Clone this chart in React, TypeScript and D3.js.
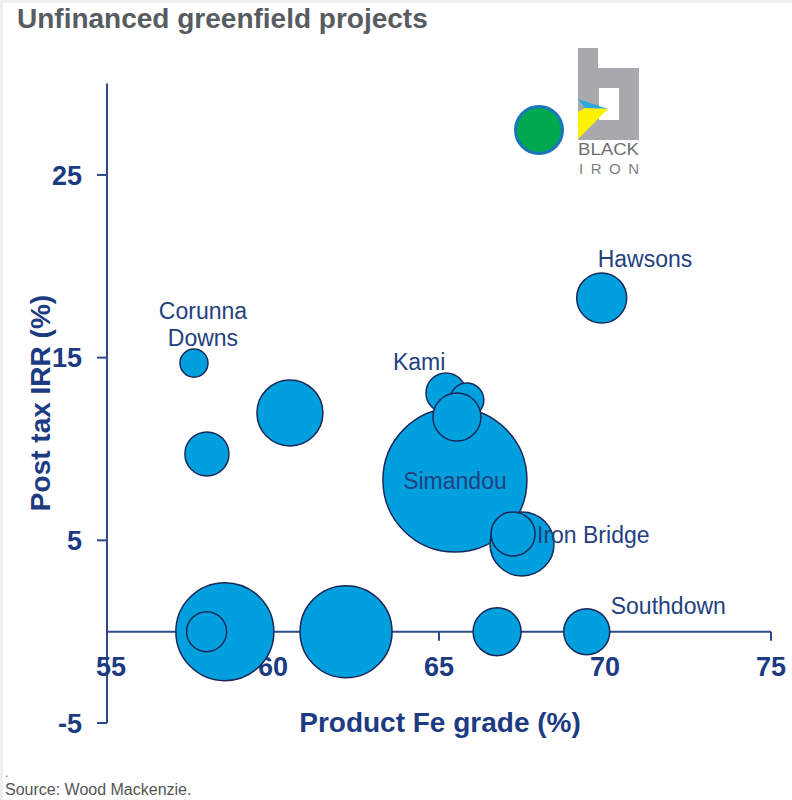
import React from "react";
import * as d3 from "d3";

// ---- data ----
const projects = ["Corunna Downs", "P2", "P3", "Simandou", "Kami", "Kami 2", "Kami 3", "Iron Bridge", "Iron Bridge 2", "Hawsons", "P11", "P12", "P13", "P14", "Southdown"];
const feGrade = [57.62, 58.01, 60.51, 65.48, 65.21, 65.84, 65.54, 67.5, 67.23, 69.9, 58.55, 58.0, 62.2, 66.75, 69.45];
const irr = [14.7, 9.73, 11.97, 8.3, 13.07, 12.68, 11.75, 4.8, 5.35, 18.26, 0, 0, 0, 0, 0];
const capex = [0.76, 1.87, 4.2, 20, 1.54, 1.11, 2.22, 3.95, 1.87, 2.41, 9.26, 1.54, 8.16, 2.22, 2.04];
const xTicks = [55, 60, 65, 70, 75];
const yTicks = [-5, 5, 15, 25];

const W = 792, H = 800;
const FONT = "'Liberation Sans', Arial, Helvetica, sans-serif";
const NAVY = "#1c3b82";
const AXIS = "#2d4a8c";
const LABEL = "#24417f";

export default function App() {
  const x = d3.scaleLinear().domain([55, 75]).range([107, 771]);
  const y = d3.scaleLinear().domain([-5, 30]).range([723, 83.6]);
  const r = d3.scaleSqrt().domain([0, 20]).range([0, 72]);
  const pts = projects.map((p, i) => ({ p, x: feGrade[i], y: irr[i], s: capex[i] }));

  const byName = (n: string) => pts.find((d) => d.p === n)!;
  const lab = (n: string) => { const d = byName(n); return { cx: x(d.x), cy: y(d.y) }; };

  const haw = lab("Hawsons");
  const cor = lab("Corunna Downs");
  const kami = lab("Kami");
  const sim = lab("Simandou");
  const ib = lab("Iron Bridge");
  const sd = lab("Southdown");

  return (
    <svg width={W} height={H} style={{ position: "absolute", left: 0, top: 0, background: "#fff" }} fontFamily={FONT}>
      <rect x={0} y={0} width={W} height={H} fill="#fff" />
      <rect x={0} y={0} width={W} height={3} fill="#efefef" />
      <rect x={0} y={0} width={3} height={H} fill="#efefef" />

      <text x={17} y={28} fontSize={28} fontWeight="bold" fill="#575c62">Unfinanced greenfield projects</text>

      {/* axes */}
      <line x1={x(55)} x2={x(55)} y1={y(30)} y2={y(-5)} stroke={AXIS} strokeWidth={2} />
      {yTicks.map((t) => (
        <g key={"y" + t}>
          <line x1={x(55) - 10} x2={x(55)} y1={y(t)} y2={y(t)} stroke={AXIS} strokeWidth={2} />
          <text x={82} y={y(t)} dy="0.36em" textAnchor="end" fontSize={27} fontWeight="bold" fill={NAVY}>{t}</text>
        </g>
      ))}
      <line x1={x(55)} x2={x(75)} y1={y(0)} y2={y(0)} stroke={AXIS} strokeWidth={2} />
      {xTicks.map((t) => (
        <g key={"x" + t}>
          <line x1={x(t)} x2={x(t)} y1={y(0)} y2={y(0) + 9} stroke={AXIS} strokeWidth={2} />
          <text x={x(t) + (t === 55 ? 4 : 0)} y={676} textAnchor="middle" fontSize={27} fontWeight="bold" fill={NAVY}>{t}</text>
        </g>
      ))}
      <text x={440} y={732} textAnchor="middle" fontSize={28} fontWeight="bold" fill={NAVY}>Product Fe grade (%)</text>
      <text transform={`translate(50,403) rotate(-90)`} textAnchor="middle" fontSize={28} fontWeight="bold" fill={NAVY}>Post tax IRR (%)</text>

      {/* bubbles */}
      {pts.map((d) => (
        <circle key={d.p} cx={x(d.x)} cy={y(d.y)} r={r(d.s)} fill="#00a0df" stroke="#1a2858" strokeWidth={1.5} />
      ))}

      {/* labels */}
      <g fontSize={23} fill={LABEL}>
        <text x={haw.cx - 4} y={haw.cy - 31}>Hawsons</text>
        <text x={cor.cx + 9} y={cor.cy - 44} textAnchor="middle">Corunna</text>
        <text x={cor.cx + 9} y={cor.cy - 17} textAnchor="middle">Downs</text>
        <text x={kami.cx - 53} y={kami.cy - 23}>Kami</text>
        <text x={sim.cx} y={sim.cy + 9} textAnchor="middle">Simandou</text>
        <text x={ib.cx + 15} y={ib.cy - 1}>Iron Bridge</text>
        <text x={sd.cx + 24} y={sd.cy - 18}>Southdown</text>
      </g>

      {/* logo */}
      <circle cx={539} cy={130} r={23.5} fill="#00a94f" stroke="#1b75bb" strokeWidth={3} />
      <path d="M578,48 H598 V68 H639 V140 H578 Z M599,88 V120 H619 V88 Z" fill="#a7a9ac" fillRule="evenodd" />
      <polygon points="578,99 608,109 585,108" fill="#29a9e0" />
      <polygon points="585,108 608,109 578,139 578,112" fill="#fff200" />
      <text x={578} y={155} fontSize={16} fill="#6d6e71" textLength={61} lengthAdjust="spacingAndGlyphs">BLACK</text>
      <text x={579} y={174} fontSize={15} fill="#808285" textLength={60} lengthAdjust="spacing">IRON</text>

      {/* source */}
      <text x={5} y={777} fontSize={12} fill="#666">.</text>
      <text x={5} y={795} fontSize={16} fill="#555">Source: Wood Mackenzie.</text>
    </svg>
  );
}
